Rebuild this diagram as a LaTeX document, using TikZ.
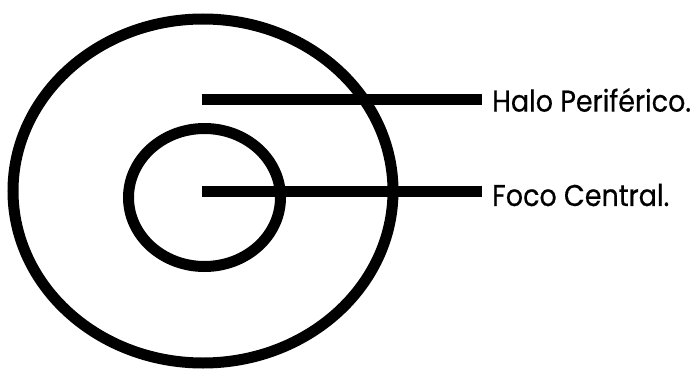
\documentclass[tikz,border=0pt]{standalone}
\usepackage{fontspec}
\newfontfamily\lblfont{Poppins}[FakeBold=0.6]
\begin{document}
\begin{tikzpicture}[x=1pt,y=-1pt,
  ring/.style={draw=black,line width=11pt},
  bar/.style={draw=black,line width=11pt},
  lbl/.style={font=\lblfont\fontsize{30}{33}\selectfont,inner sep=0pt,anchor=west}]
\useasboundingbox (0,0) rectangle (696,369);
\draw[ring] (203,191) ellipse [x radius=190, y radius=172];
\draw[ring] (204.5,197.5) ellipse [x radius=76, y radius=69];
\node[lbl] (halo) at (492,100) {\scalebox{0.9}[1]{Halo Periférico.}};
\node[lbl] (foco) at (492,195) {\scalebox{0.9}[1]{Foco Central.}};
\coordinate (hs) at (202,99);
\coordinate (fs) at (202,191);
\draw[bar] (hs) -- ([xshift=-10pt]hs -| halo.west);
\draw[bar] (fs) -- ([xshift=-10pt]fs -| foco.west);
\end{tikzpicture}
\end{document}
